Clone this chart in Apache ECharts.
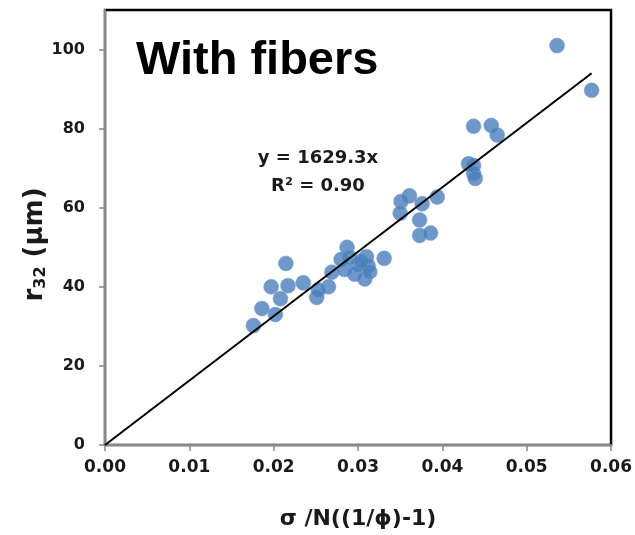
<!DOCTYPE html>
<html>
<head>
<meta charset="utf-8">
<script src="https://cdn.jsdelivr.net/npm/echarts@6/dist/echarts.min.js"></script>
<style>
html,body{margin:0;padding:0;background:#fff;}
#chart{width:635px;height:535px;}
</style>
</head>
<body>
<div id="chart"></div>
<script>
var xValues = [0.0536,0.0577,0.0437,0.0458,0.0465,0.0431,0.0437,0.0437,0.0439,0.0394,
  0.0376,0.0361,0.0351,0.0350,0.0373,0.0373,0.0386,0.0287,0.0280,0.0310,
  0.0331,0.0269,0.0284,0.0296,0.0312,0.0308,0.0300,0.0314,0.0235,0.0265,
  0.0251,0.0253,0.02145,0.0197,0.0217,0.0208,0.0186,0.0202,0.0176,0.0290,0.0304];
var yValues = [101.0,89.7,80.6,80.8,78.4,71.1,70.7,68.7,67.4,62.7,
  61.0,63.0,61.6,58.6,56.9,53.0,53.6,50.0,46.9,47.6,
  47.2,43.7,44.4,43.2,45.3,42.0,45.5,43.8,41.0,40.0,
  37.3,39.2,45.9,40.0,40.3,37.0,34.5,33.0,30.2,47.4,46.5];
var trendSlope = 1629.3;
var trendX = [0, 0.0577];
var xTicks = [0,0.01,0.02,0.03,0.04,0.05,0.06];
var yTicks = [0,20,40,60,80,100];
var titleText = 'With fibers';
var eqText = 'y = 1629.3x';
var r2Text = 'R² = 0.90';

var points = xValues.map(function(x,i){return [x,yValues[i]];});
var trend = trendX.map(function(x){return [x, trendSlope*x];});

var chart = echarts.init(document.getElementById('chart'), null, {renderer:'canvas'});
var labelFont = '"DejaVu Sans", sans-serif';
var textColor = '#1a1a1a';
chart.setOption({
  animation:false,
  backgroundColor:'#fff',
  grid:{left:105,right:20,top:10,bottom:86,show:true,borderColor:'#000',borderWidth:2.5,backgroundColor:'transparent'},
  title:[
    {text:titleText,left:131,top:33,textStyle:{fontFamily:'"Liberation Sans", Arial, sans-serif',fontWeight:'bold',fontSize:47,color:'#000'}}
  ],
  graphic:[
    {type:'text',style:{text:eqText,x:318,y:158,textAlign:'center',textVerticalAlign:'middle',font:'bold 18px "DejaVu Sans", sans-serif',fill:textColor}},
    {type:'text',style:{text:r2Text,x:318,y:186,textAlign:'center',textVerticalAlign:'middle',font:'bold 18px "DejaVu Sans", sans-serif',fill:textColor}}
  ],
  xAxis:{
    type:'value',min:0,max:0.06,interval:0.01,
    name:'σ /N((1/ϕ)-1)',nameLocation:'middle',nameGap:63,nameMoveOverlap:false,
    nameTextStyle:{fontFamily:labelFont,fontWeight:'bold',fontSize:22,color:textColor},
    axisLine:{show:true,lineStyle:{color:'#888',width:2}},
    axisTick:{show:true,length:6,lineStyle:{color:'#888',width:1.5}},
    axisLabel:{margin:14,fontFamily:labelFont,fontWeight:'bold',fontSize:17,color:textColor,
      customValues:xTicks,formatter:function(v){return v.toFixed(2);}},
    splitLine:{show:false}
  },
  yAxis:{
    type:'value',min:0,max:110,interval:20,
    name:'{a|r}{s|32}{a| (µm)}',nameLocation:'middle',nameGap:56,nameRotate:90,nameMoveOverlap:false,
    nameTextStyle:{padding:[0,34,0,0],rich:{
      a:{fontFamily:labelFont,fontWeight:'bold',fontSize:26,color:textColor},
      s:{fontFamily:labelFont,fontWeight:'bold',fontSize:16,color:textColor,verticalAlign:'bottom',padding:[12,0,0,0]}
    }},
    axisLine:{show:true,lineStyle:{color:'#888',width:2}},
    axisTick:{show:true,length:6,customValues:yTicks,lineStyle:{color:'#888',width:1.5}},
    axisLabel:{margin:20,fontFamily:labelFont,fontWeight:'bold',fontSize:16,color:textColor,customValues:yTicks},
    splitLine:{show:false}
  },
  series:[
    {type:'line',data:trend,symbol:'none',lineStyle:{color:'#000',width:2},z:3,silent:true},
    {type:'scatter',data:points,symbol:'circle',symbolSize:15,
      itemStyle:{color:'#4A7EBB',borderColor:'rgba(120,160,210,0.6)',borderWidth:1},z:2}
  ]
});
</script>
</body>
</html>
